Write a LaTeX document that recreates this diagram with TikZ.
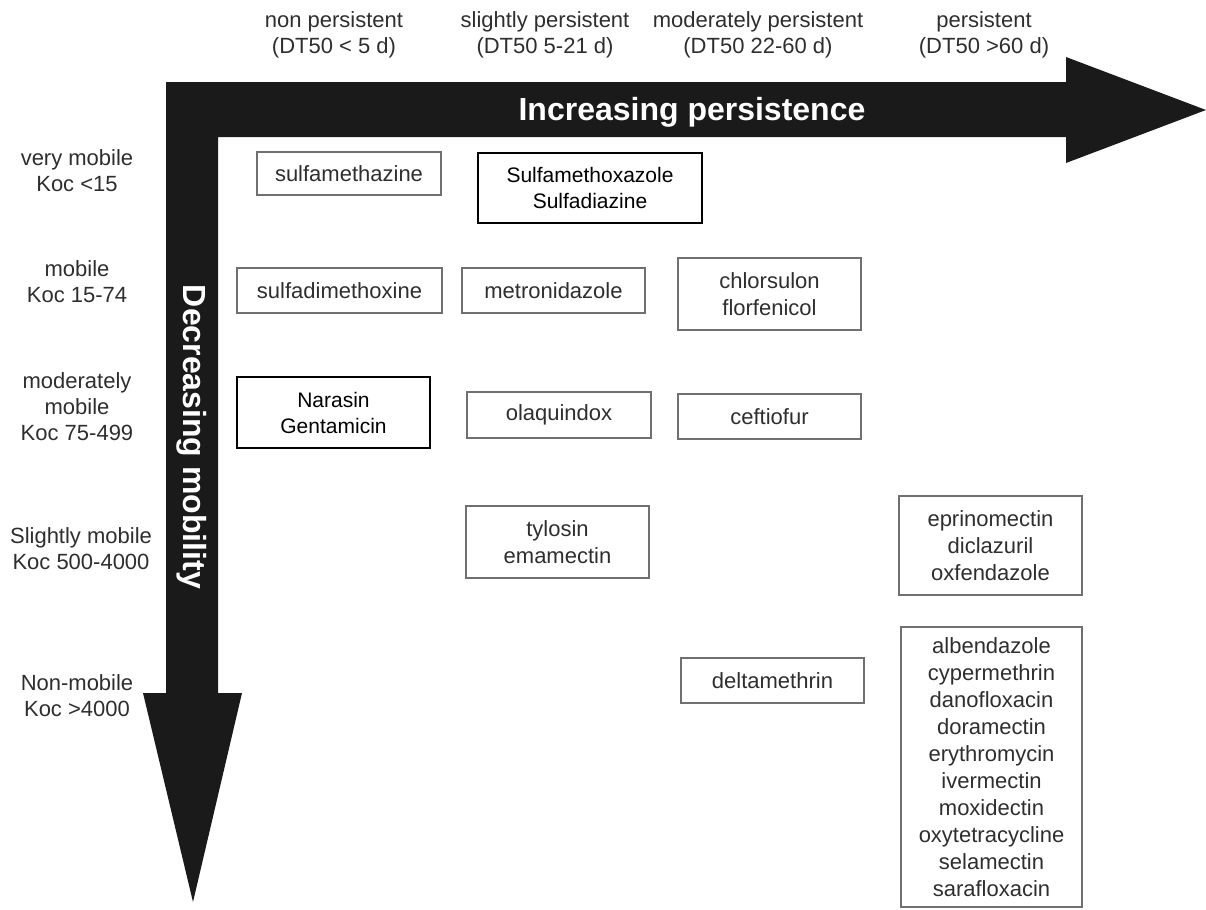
\documentclass[tikz,border=0pt]{standalone}
\usepackage{fontspec}
\setmainfont{Liberation Sans}
\usepackage{tikz}

\definecolor{arrowblack}{HTML}{1A1A1A}
\definecolor{labelgray}{HTML}{2E2E2E}
\definecolor{framegray}{HTML}{707070}

\tikzset{
  axislabel/.style={align=center, text=labelgray, font=\fontsize{11}{13}\selectfont},
  graybox/.style={draw=framegray, line width=1.3pt, align=center, inner sep=0pt,
    text=labelgray, font=\fontsize{11}{13.5}\selectfont},
  blackbox/.style={draw=black, line width=0.8pt, align=center, inner sep=0pt,
    text=black, font=\fontsize{10.5}{13}\selectfont},
  axistitle/.style={text=white, font=\fontsize{16}{19}\selectfont\bfseries}
}

\begin{document}
\begin{tikzpicture}[x=0.5pt, y=-0.5pt]
				\useasboundingbox (0,0) rectangle (1206,910);
				% L-shaped double arrow
				\fill[arrowblack] (166,82)--(1066,82)--(1066,57)--(1206,110)--(1066,163)--(1066,137)--(218,137)--(218,693)--(242,693)--(193,902)--(143,693)--(166,693)--cycle;
				\node[axistitle] (persist) at (692,112) {Increasing persistence};
				\node[axistitle, rotate=-90] (mobility) at (192,437) {Decreasing mobility};
				
				% persistence classes
				\node[axislabel] (nonpers) at (334,35) {non persistent\\(DT50 < 5 d)};
				\node[axislabel] (slpers) at (545,35) {slightly persistent\\(DT50 5-21 d)};
				\node[axislabel] (modpers) at (758,35) {moderately persistent\\(DT50 22-60 d)};
				\node[axislabel] (pers) at (984,35) {persistent\\(DT50 >60 d)};
				
				% mobility classes
				\node[axislabel] (vmob) at (77,170.5) {very mobile\\Koc <15};
				\node[axislabel] (mob) at (77,281.5) {mobile\\Koc 15-74};
				\node[axislabel] (modmob) at (77,406.5) {moderately\\mobile\\Koc 75-499};
				\node[axislabel] (slmob) at (81,548.5) {Slightly mobile\\Koc 500-4000};
				\node[axislabel] (nonmob) at (77,696) {Non-mobile\\Koc >4000};
				
				% compounds
				\node[graybox, minimum width=92pt, minimum height=21.5pt] (sulfamethazine) at (349,173.5) {sulfamethazine};
				\node[blackbox, minimum width=112pt, minimum height=35pt] (sulfamethoxazole) at (590,188) {Sulfamethoxazole\\Sulfadiazine};
				\node[graybox, minimum width=102.5pt, minimum height=22.5pt] (sulfadimethoxine) at (339.5,290.5) {sulfadimethoxine};
				\node[graybox, minimum width=91.5pt, minimum height=22.5pt] (metronidazole) at (553.5,290.5) {metronidazole};
				\node[graybox, minimum width=91.5pt, minimum height=36pt] (chlorsulon) at (769.5,294) {chlorsulon\\florfenicol};
				\node[blackbox, minimum width=96.5pt, minimum height=35.5pt] (narasin) at (333.5,412.5) {Narasin\\Gentamicin};
				\node[graybox, minimum width=92pt, minimum height=23pt] (olaquindox) at (559,415) {olaquindox};
				\node[graybox, minimum width=91.5pt, minimum height=22.5pt] (ceftiofur) at (769.5,416.5) {ceftiofur};
				\node[graybox, minimum width=91.5pt, minimum height=36pt] (tylosin) at (557.5,542) {tylosin\\emamectin};
				\node[graybox, minimum width=91.5pt, minimum height=49.5pt] (eprinomectin) at (990.5,545.5) {eprinomectin\\diclazuril\\oxfendazole};
				\node[graybox, minimum width=91.5pt, minimum height=22.5pt] (deltamethrin) at (772.5,680.5) {deltamethrin};
				\node[graybox, minimum width=90.5pt, minimum height=140pt] (albendazole) at (991.5,767) {albendazole\\cypermethrin\\danofloxacin\\doramectin\\erythromycin\\ivermectin\\moxidectin\\oxytetracycline\\selamectin\\sarafloxacin};
\end{tikzpicture}
\end{document}
